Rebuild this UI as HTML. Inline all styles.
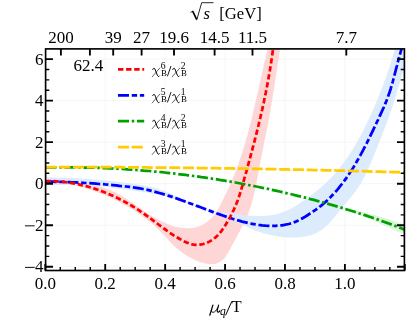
<!DOCTYPE html><html><head><meta charset="utf-8"><style>html,body{margin:0;padding:0;background:#fff}svg{display:block;will-change:transform}.t,.t text{font-family:"Liberation Serif",serif}</style></head><body><svg width="407" height="319" viewBox="0 0 407 319">
<defs><clipPath id="c"><rect x="45.6" y="48.9" width="358.79999999999995" height="221.6"/></clipPath><g id="chi" fill="none" stroke="#000" stroke-linecap="round"><path d="M0.7,1.7C1.0,0.8 1.6,0.4 2.2,0.6C2.7,0.9 2.9,1.6 3.2,2.4L5.3,7.6C5.6,8.3 6.0,8.8 6.5,8.8C6.9,8.8 7.1,8.6 7.3,8.3" stroke-width="1.0"/><path d="M7.7,0.3L0.1,9.1" stroke-width="0.6"/></g></defs>
<rect width="407" height="319" fill="#fff"/>
<path d="M105.22,48.9V270.5M165.14,48.9V270.5M225.06,48.9V270.5M284.98,48.9V270.5M344.90,48.9V270.5M45.6,59.08H404.4M45.6,100.62H404.4M45.6,142.16H404.4M45.6,183.70H404.4M45.6,225.24H404.4M45.6,266.78H404.4" stroke="#ececec" stroke-width="0.5" fill="none"/>
<g clip-path="url(#c)">
<path d="M45.5,180.0 50.1,179.8 54.6,179.7 59.2,179.8 63.8,179.9 68.4,180.3 72.9,180.7 77.5,181.3 82.1,182.0 86.6,182.9 91.1,183.9 95.6,185.0 100.0,186.4 104.3,187.9 108.6,189.5 112.8,191.3 116.9,193.3 120.9,195.5 124.8,197.8 128.7,200.3 132.5,202.8 136.2,205.4 140.0,208.1 143.8,210.7 147.6,213.2 151.5,215.7 155.5,218.1 159.5,220.3 163.7,222.3 167.9,224.1 172.2,225.7 176.6,226.9 181.2,227.8 185.8,228.3 190.4,228.2 194.9,227.5 199.2,226.2 203.3,224.3 207.1,221.8 210.6,218.9 213.6,215.6 216.3,211.9 218.8,207.9 221.0,203.8 223.1,199.6 225.1,195.4 227.1,191.2 229.1,187.1 230.9,182.9 232.7,178.7 234.4,174.5 236.1,170.2 237.7,165.9 239.2,161.6 240.7,157.3 242.1,153.0 243.5,148.6 244.8,144.2 246.0,139.8 247.3,135.4 248.5,130.9 249.6,126.5 250.8,122.0 251.9,117.6 252.9,113.1 254.0,108.6 255.0,104.1 256.1,99.6 257.1,95.2 258.1,90.7 259.1,86.2 260.1,81.7 261.1,77.2 262.1,72.7 263.1,68.2 264.1,63.8 265.2,59.3 266.2,54.9 267.3,50.5 268.4,46.0 280.6,46.0 279.8,51.3 278.9,56.6 278.1,62.0 277.3,67.3 276.5,72.6 275.6,78.0 274.8,83.3 274.0,88.7 273.1,94.0 272.3,99.4 271.4,104.7 270.5,110.0 269.5,115.4 268.6,120.7 267.6,126.0 266.5,131.2 265.5,136.5 264.4,141.8 263.4,147.1 262.3,152.3 261.2,157.6 260.2,162.9 259.2,168.3 258.2,173.6 257.2,179.0 256.2,184.3 255.1,189.6 253.9,194.9 252.6,200.2 251.1,205.3 249.4,210.4 247.5,215.3 245.3,220.2 243.0,225.0 240.5,229.8 238.0,234.6 235.3,239.4 232.7,244.2 230.1,249.2 227.4,254.0 224.2,258.4 220.2,261.8 215.5,263.9 210.4,264.3 205.0,263.5 199.8,262.0 194.7,260.0 189.8,257.6 185.2,254.8 180.7,251.6 176.5,248.2 172.6,244.5 168.8,240.6 165.2,236.6 161.5,232.7 157.8,228.8 153.9,225.1 149.8,221.7 145.5,218.4 141.1,215.2 136.7,212.2 132.1,209.3 127.5,206.5 122.8,203.8 118.0,201.3 113.2,198.9 108.3,196.6 103.3,194.5 98.3,192.5 93.2,190.7 88.0,189.1 82.8,187.6 77.6,186.3 72.3,185.2 67.0,184.3 61.7,183.5 56.3,182.9 50.9,182.5 45.5,182.3Z" fill="#ffd6d6"/>
<path d="M45.5,177.2 51.2,177.3 56.9,177.5 62.6,177.6 68.3,177.9 74.0,178.1 79.7,178.5 85.4,178.8 91.1,179.2 96.8,179.7 102.5,180.2 108.2,180.7 113.8,181.3 119.5,182.0 125.2,182.7 130.9,183.5 136.5,184.3 142.2,185.2 147.8,186.3 153.3,187.6 158.8,189.1 164.2,190.9 169.5,193.0 174.7,195.4 179.8,197.9 185.0,200.4 190.2,202.8 195.4,205.1 200.7,207.2 206.1,209.0 211.7,210.4 217.2,211.6 222.9,212.5 228.5,213.4 234.1,214.1 239.7,214.8 245.5,215.4 251.2,215.8 257.0,216.0 262.7,216.0 268.4,215.6 274.0,214.8 279.5,213.5 284.8,211.6 289.9,209.2 294.9,206.4 299.8,203.3 304.5,200.0 309.2,196.7 313.8,193.2 318.3,189.6 322.6,185.9 326.8,182.1 330.8,178.1 334.6,173.9 338.3,169.6 341.8,165.2 345.2,160.6 348.5,155.9 351.6,151.1 354.6,146.2 357.4,141.3 360.2,136.2 362.9,131.2 365.5,126.0 367.9,120.8 370.4,115.6 372.7,110.4 375.0,105.2 377.3,99.9 379.4,94.7 381.5,89.4 383.6,84.1 385.5,78.8 387.4,73.4 389.2,68.0 390.9,62.6 392.6,57.1 394.1,51.6 395.6,46.0 407.0,46.0 407.0,52.3 406.3,58.5 405.1,64.6 403.5,70.6 401.7,76.6 399.9,82.5 398.0,88.5 396.2,94.5 394.3,100.4 392.4,106.4 390.4,112.3 388.4,118.1 386.3,124.0 384.1,129.8 381.8,135.6 379.6,141.4 377.2,147.2 374.9,153.0 372.6,158.9 370.1,164.7 367.6,170.4 364.8,176.0 361.9,181.5 358.7,186.8 355.1,191.9 351.3,196.7 347.3,201.5 343.4,206.3 339.4,211.2 335.5,216.1 331.4,220.9 327.0,225.3 322.3,229.4 317.1,232.7 311.5,235.1 305.5,236.5 299.2,237.3 293.0,237.6 286.7,237.4 280.4,236.8 274.2,235.8 268.1,234.5 262.2,232.8 256.3,230.9 250.5,228.6 244.9,225.9 239.3,223.2 233.7,220.7 227.9,218.3 222.0,216.2 216.2,214.1 210.3,212.0 204.5,209.8 198.7,207.6 192.8,205.3 187.0,203.1 181.1,201.1 175.2,199.2 169.2,197.4 163.2,195.8 157.1,194.4 151.0,193.2 144.8,192.2 138.7,191.4 132.5,190.6 126.3,189.7 120.1,188.8 114.0,187.9 107.8,187.1 101.6,186.5 95.4,186.1 89.1,185.7 82.9,185.5 76.7,185.3 70.4,185.2 64.2,185.1 58.0,184.9 51.7,184.8 45.5,184.6Z" fill="#dbebfc" fill-opacity="0.96"/>
<path d="M330.0,204.0 331.0,204.3 331.9,204.5 332.9,204.7 333.9,204.9 334.9,205.2 335.8,205.4 336.8,205.6 337.8,205.8 338.8,206.1 339.7,206.3 340.7,206.5 341.7,206.7 342.7,207.0 343.6,207.2 344.6,207.4 345.6,207.6 346.6,207.9 347.5,208.1 348.5,208.3 349.5,208.6 350.4,208.8 351.4,209.0 352.4,209.3 353.4,209.5 354.3,209.7 355.3,210.0 356.3,210.2 357.2,210.4 358.2,210.7 359.2,210.9 360.2,211.2 361.1,211.4 362.1,211.7 363.1,211.9 364.0,212.2 365.0,212.4 366.0,212.7 366.9,212.9 367.9,213.2 368.9,213.4 369.8,213.7 370.8,213.9 371.8,214.2 372.7,214.5 373.7,214.7 374.7,215.0 375.6,215.3 376.6,215.5 377.5,215.8 378.5,216.1 379.5,216.4 380.4,216.7 381.4,216.9 382.3,217.2 383.3,217.5 384.2,217.8 385.2,218.1 386.2,218.4 387.1,218.7 388.1,219.0 389.0,219.3 390.0,219.6 390.9,219.9 391.9,220.2 392.8,220.6 393.8,220.9 394.7,221.2 395.7,221.5 396.6,221.9 397.5,222.2 398.5,222.5 399.4,222.9 400.4,223.2 401.3,223.6 402.2,223.9 403.2,224.3 404.1,224.6 405.0,225.0 406.0,225.4 406.0,235.3 405.1,234.8 404.1,234.4 403.2,234.0 402.2,233.6 401.3,233.2 400.3,232.8 399.4,232.3 398.4,231.9 397.5,231.5 396.5,231.1 395.6,230.6 394.6,230.2 393.7,229.8 392.8,229.4 391.8,229.0 390.9,228.5 389.9,228.1 389.0,227.7 388.0,227.3 387.1,226.8 386.1,226.4 385.2,226.0 384.2,225.6 383.3,225.1 382.3,224.7 381.4,224.3 380.5,223.9 379.5,223.4 378.6,223.0 377.6,222.6 376.7,222.2 375.7,221.8 374.8,221.3 373.8,220.9 372.9,220.5 371.9,220.1 371.0,219.7 370.0,219.3 369.0,218.9 368.1,218.5 367.1,218.1 366.2,217.7 365.2,217.3 364.3,216.9 363.3,216.5 362.3,216.1 361.4,215.7 360.4,215.3 359.5,214.9 358.5,214.5 357.5,214.2 356.6,213.8 355.6,213.4 354.6,213.0 353.7,212.7 352.7,212.3 351.7,212.0 350.8,211.6 349.8,211.2 348.8,210.9 347.8,210.5 346.9,210.2 345.9,209.9 344.9,209.5 343.9,209.2 342.9,208.9 341.9,208.5 341.0,208.2 340.0,207.9 339.0,207.6 338.0,207.3 337.0,207.0 336.0,206.7 335.0,206.4 334.0,206.1 333.0,205.8 332.0,205.6 331.0,205.3 330.0,205.0Z" fill="#dbf6db"/>
<path d="M45.5,181.7 48.9,181.7 52.3,181.7 55.7,181.8 59.0,181.8 62.4,181.9 65.8,182.0 69.1,182.1 72.5,182.3 75.9,182.4 79.2,182.6 82.6,182.8 85.9,183.0 89.3,183.2 92.6,183.4 96.0,183.7 99.3,184.0 102.7,184.2 106.1,184.5 109.4,184.8 112.8,185.1 116.2,185.4 119.5,185.8 122.9,186.1 126.3,186.5 129.6,186.9 133.0,187.3 136.4,187.8 139.7,188.4 143.0,189.0 146.3,189.7 149.6,190.4 152.8,191.2 156.1,192.1 159.3,193.0 162.5,193.9 165.7,194.9 168.9,195.9 172.1,196.9 175.3,198.0 178.5,199.1 181.6,200.2 184.8,201.4 187.9,202.6 191.1,203.7 194.3,204.9 197.4,206.1 200.6,207.3 203.7,208.5 206.9,209.7 210.1,210.9 213.2,212.1 216.4,213.3 219.6,214.4 222.8,215.5 226.0,216.6 229.3,217.7 232.5,218.8 235.7,219.8 239.0,220.7 242.2,221.6 245.5,222.4 248.8,223.2 252.1,223.8 255.4,224.4 258.7,224.9 262.1,225.3 265.4,225.6 268.8,225.8 272.1,225.9 275.5,225.8 278.8,225.6 282.2,225.3 285.5,224.7 288.8,224.0 292.0,223.1 295.1,221.9 298.2,220.6 301.2,219.0 304.2,217.3 307.1,215.5 309.9,213.6 312.8,211.7 315.6,209.8 318.3,207.8 320.9,205.8 323.5,203.7 326.1,201.4 328.5,199.1 330.9,196.8 333.2,194.3 335.5,191.8 337.7,189.3 339.8,186.7 341.9,184.0 343.9,181.4 345.9,178.6 347.8,175.9 349.7,173.1 351.6,170.2 353.4,167.4 355.1,164.5 356.8,161.5 358.5,158.6 360.2,155.7 361.8,152.7 363.4,149.7 364.9,146.7 366.5,143.7 368.0,140.7 369.5,137.7 370.9,134.7 372.4,131.6 373.8,128.6 375.3,125.6 376.7,122.5 378.2,119.5 379.6,116.4 381.0,113.4 382.4,110.3 383.8,107.2 385.1,104.1 386.4,101.0 387.6,97.8 388.7,94.7 389.8,91.5 390.8,88.3 391.7,85.0 392.7,81.8 393.6,78.5 394.4,75.3 395.3,72.0 396.1,68.8 397.0,65.5 397.8,62.2 398.7,59.0 399.6,55.7 400.5,52.5 401.4,49.2 402.4,46.0" fill="none" stroke="#0000ff" stroke-width="2.75" stroke-dasharray="11 2.75 5.4 2.75"/>
<path d="M45.5,181.2 48.3,181.1 51.1,181.1 54.0,181.2 56.8,181.4 59.6,181.6 62.4,181.8 65.2,182.1 68.0,182.5 70.8,182.9 73.5,183.4 76.3,183.9 79.0,184.4 81.7,185.1 84.5,185.7 87.2,186.4 89.9,187.2 92.5,188.0 95.2,188.9 97.9,189.8 100.5,190.7 103.1,191.7 105.7,192.8 108.3,193.8 110.9,195.0 113.5,196.1 116.0,197.3 118.5,198.6 121.0,199.8 123.5,201.1 126.0,202.5 128.4,203.9 130.9,205.3 133.3,206.7 135.7,208.2 138.0,209.7 140.4,211.3 142.7,212.9 145.0,214.5 147.3,216.1 149.5,217.8 151.8,219.4 154.0,221.1 156.3,222.8 158.5,224.5 160.7,226.2 163.0,227.9 165.3,229.5 167.5,231.1 169.9,232.8 172.2,234.3 174.5,235.9 176.9,237.3 179.4,238.8 181.9,240.2 184.4,241.5 187.0,242.6 189.6,243.6 192.2,244.4 195.0,244.8 197.7,244.9 200.5,244.6 203.3,244.0 205.9,243.2 208.5,242.1 211.0,240.7 213.3,239.1 215.5,237.4 217.5,235.5 219.4,233.5 221.2,231.3 222.8,229.0 224.4,226.7 226.0,224.2 227.4,221.8 228.8,219.3 230.2,216.8 231.5,214.3 232.7,211.8 234.0,209.3 235.1,206.7 236.2,204.2 237.3,201.6 238.2,199.0 239.1,196.4 240.0,193.7 240.8,191.0 241.6,188.3 242.4,185.6 243.1,182.9 243.9,180.2 244.6,177.5 245.4,174.8 246.2,172.1 246.9,169.4 247.7,166.7 248.4,164.0 249.1,161.3 249.9,158.6 250.6,155.9 251.3,153.1 252.1,150.4 252.8,147.7 253.5,145.0 254.2,142.3 254.9,139.6 255.6,136.8 256.3,134.1 257.0,131.4 257.6,128.7 258.3,126.0 259.0,123.2 259.6,120.5 260.3,117.8 260.9,115.0 261.5,112.3 262.2,109.6 262.8,106.8 263.4,104.1 264.0,101.3 264.5,98.6 265.1,95.8 265.7,93.1 266.2,90.3 266.8,87.6 267.3,84.8 267.8,82.1 268.3,79.3 268.8,76.6 269.3,73.8 269.8,71.0 270.2,68.3 270.7,65.5 271.1,62.7 271.5,59.9 271.9,57.1 272.3,54.4 272.7,51.6 273.0,48.8 273.4,46.0" fill="none" stroke="#ff0000" stroke-width="2.75" stroke-dasharray="5.4 2.7"/>
<path d="M45.5,167.4 48.1,167.4 50.8,167.3 53.4,167.3 56.1,167.3 58.7,167.3 61.4,167.3 64.0,167.3 66.7,167.3 69.3,167.3 72.0,167.3 74.7,167.3 77.3,167.4 80.0,167.4 82.6,167.5 85.3,167.5 87.9,167.6 90.5,167.6 93.2,167.7 95.8,167.8 98.5,167.9 101.1,168.0 103.8,168.1 106.4,168.2 109.1,168.3 111.7,168.5 114.4,168.6 117.0,168.7 119.7,168.9 122.3,169.0 125.0,169.2 127.6,169.4 130.2,169.6 132.9,169.7 135.5,169.9 138.2,170.1 140.8,170.3 143.5,170.6 146.1,170.8 148.7,171.0 151.4,171.2 154.0,171.5 156.6,171.7 159.3,172.0 161.9,172.2 164.6,172.5 167.2,172.8 169.8,173.1 172.5,173.4 175.1,173.7 177.7,174.0 180.3,174.3 183.0,174.6 185.6,174.9 188.2,175.3 190.9,175.6 193.5,176.0 196.1,176.3 198.7,176.7 201.4,177.1 204.0,177.4 206.6,177.8 209.2,178.2 211.8,178.6 214.5,179.0 217.1,179.4 219.7,179.9 222.3,180.3 224.9,180.7 227.5,181.2 230.1,181.6 232.7,182.1 235.4,182.5 238.0,183.0 240.6,183.5 243.2,184.0 245.8,184.5 248.4,185.0 251.0,185.5 253.6,186.0 256.2,186.5 258.8,187.0 261.4,187.6 264.0,188.1 266.6,188.7 269.1,189.2 271.7,189.8 274.3,190.3 276.9,190.9 279.5,191.5 282.1,192.1 284.7,192.7 287.2,193.3 289.8,193.9 292.4,194.5 295.0,195.2 297.5,195.8 300.1,196.4 302.7,197.1 305.3,197.7 307.8,198.4 310.4,199.1 313.0,199.7 315.5,200.4 318.1,201.1 320.6,201.8 323.2,202.5 325.7,203.2 328.3,203.9 330.8,204.7 333.4,205.4 335.9,206.1 338.5,206.9 341.0,207.6 343.5,208.4 346.1,209.2 348.6,210.0 351.1,210.8 353.7,211.5 356.2,212.3 358.7,213.2 361.2,214.0 363.7,214.8 366.3,215.6 368.8,216.5 371.3,217.3 373.8,218.2 376.3,219.1 378.8,219.9 381.3,220.8 383.8,221.7 386.3,222.6 388.7,223.5 391.2,224.4 393.7,225.4 396.2,226.3 398.7,227.3 401.1,228.2 403.6,229.2 406.1,230.1" fill="none" stroke="#00a000" stroke-width="2.75" stroke-dasharray="11 2.75 2.5 2.75"/>
<path d="M45.5,167.0 48.1,167.0 50.7,167.0 53.3,167.0 55.9,167.0 58.5,167.0 61.1,167.0 63.7,167.0 66.3,167.0 68.8,167.0 71.4,167.0 74.0,167.0 76.6,167.0 79.2,167.0 81.8,167.1 84.4,167.1 87.0,167.1 89.6,167.1 92.2,167.1 94.8,167.1 97.4,167.1 100.0,167.1 102.6,167.1 105.2,167.2 107.8,167.2 110.3,167.2 112.9,167.2 115.5,167.2 118.1,167.2 120.7,167.2 123.3,167.3 125.9,167.3 128.5,167.3 131.1,167.3 133.7,167.3 136.3,167.4 138.9,167.4 141.5,167.4 144.1,167.4 146.7,167.4 149.3,167.5 151.8,167.5 154.4,167.5 157.0,167.5 159.6,167.6 162.2,167.6 164.8,167.6 167.4,167.6 170.0,167.7 172.6,167.7 175.2,167.7 177.8,167.7 180.4,167.8 183.0,167.8 185.6,167.8 188.2,167.9 190.8,167.9 193.4,167.9 195.9,167.9 198.5,168.0 201.1,168.0 203.7,168.0 206.3,168.1 208.9,168.1 211.5,168.1 214.1,168.2 216.7,168.2 219.3,168.3 221.9,168.3 224.5,168.3 227.1,168.4 229.7,168.4 232.3,168.4 234.9,168.5 237.4,168.5 240.0,168.6 242.6,168.6 245.2,168.7 247.8,168.7 250.4,168.7 253.0,168.8 255.6,168.8 258.2,168.9 260.8,168.9 263.4,169.0 266.0,169.0 268.6,169.1 271.2,169.1 273.8,169.2 276.3,169.2 278.9,169.3 281.5,169.3 284.1,169.4 286.7,169.4 289.3,169.5 291.9,169.5 294.5,169.6 297.1,169.6 299.7,169.7 302.3,169.7 304.9,169.8 307.5,169.8 310.1,169.9 312.7,170.0 315.2,170.0 317.8,170.1 320.4,170.1 323.0,170.2 325.6,170.3 328.2,170.3 330.8,170.4 333.4,170.4 336.0,170.5 338.6,170.6 341.2,170.6 343.8,170.7 346.4,170.8 349.0,170.8 351.6,170.9 354.1,171.0 356.7,171.0 359.3,171.1 361.9,171.2 364.5,171.2 367.1,171.3 369.7,171.4 372.3,171.5 374.9,171.5 377.5,171.6 380.1,171.7 382.7,171.8 385.3,171.8 387.9,171.9 390.4,172.0 393.0,172.1 395.6,172.1 398.2,172.2 400.8,172.3 403.4,172.4 406.0,172.5" fill="none" stroke="#ffcc00" stroke-width="2.75" stroke-dasharray="11 2.75"/>
</g>
<rect x="45.6" y="48.9" width="358.79999999999995" height="221.6" fill="none" stroke="#000" stroke-width="1.65"/>
<path d="M45.30,270.5v-6.6M105.22,270.5v-6.6M165.14,270.5v-6.6M225.06,270.5v-6.6M284.98,270.5v-6.6M344.90,270.5v-6.6M404.82,270.5v-6.6M45.6,266.78h7.4M404.4,266.78h-7.4M45.6,225.24h7.4M404.4,225.24h-7.4M45.6,183.70h7.4M404.4,183.70h-7.4M45.6,142.16h7.4M404.4,142.16h-7.4M45.6,100.62h7.4M404.4,100.62h-7.4M45.6,59.08h7.4M404.4,59.08h-7.4M60.9,48.9v6.6M89.9,48.9v6.6M113.2,48.9v6.6M141.6,48.9v6.6M174,48.9v6.6M214.6,48.9v6.6M252.5,48.9v6.6M346.3,48.9v6.6" stroke="#000" stroke-width="1.85" fill="none"/>
<path d="M60.28,270.5v-3.4M75.26,270.5v-3.4M90.24,270.5v-3.4M120.20,270.5v-3.4M135.18,270.5v-3.4M150.16,270.5v-3.4M180.12,270.5v-3.4M195.10,270.5v-3.4M210.08,270.5v-3.4M240.04,270.5v-3.4M255.02,270.5v-3.4M270.00,270.5v-3.4M299.96,270.5v-3.4M314.94,270.5v-3.4M329.92,270.5v-3.4M359.88,270.5v-3.4M374.86,270.5v-3.4M389.84,270.5v-3.4M45.6,256.39h3.7M404.4,256.39h-3.7M45.6,246.01h3.7M404.4,246.01h-3.7M45.6,235.62h3.7M404.4,235.62h-3.7M45.6,214.85h3.7M404.4,214.85h-3.7M45.6,204.47h3.7M404.4,204.47h-3.7M45.6,194.08h3.7M404.4,194.08h-3.7M45.6,173.31h3.7M404.4,173.31h-3.7M45.6,162.93h3.7M404.4,162.93h-3.7M45.6,152.54h3.7M404.4,152.54h-3.7M45.6,131.77h3.7M404.4,131.77h-3.7M45.6,121.39h3.7M404.4,121.39h-3.7M45.6,111.00h3.7M404.4,111.00h-3.7M45.6,90.23h3.7M404.4,90.23h-3.7M45.6,79.85h3.7M404.4,79.85h-3.7M45.6,69.46h3.7M404.4,69.46h-3.7" stroke="#000" stroke-width="1.4" fill="none"/>
<g class="t" font-size="17" fill="#000" text-anchor="middle">
<text x="60.9" y="42.5">200</text>
<text x="88.4" y="71.2">62.4</text>
<text x="113.2" y="42.5">39</text>
<text x="141.6" y="42.5">27</text>
<text x="174" y="42.5">19.6</text>
<text x="214.6" y="42.5">14.5</text>
<text x="252.5" y="42.5">11.5</text>
<text x="346.3" y="42.5">7.7</text>
<text x="45.3" y="288.8">0.0</text>
<text x="105.2" y="288.8">0.2</text>
<text x="165.1" y="288.8">0.4</text>
<text x="225.1" y="288.8">0.6</text>
<text x="285.0" y="288.8">0.8</text>
<text x="344.9" y="288.8">1.0</text>
<text x="43.5" y="64.7" text-anchor="end">6</text>
<text x="43.5" y="106.2" text-anchor="end">4</text>
<text x="43.5" y="147.8" text-anchor="end">2</text>
<text x="43.5" y="189.3" text-anchor="end">0</text>
<text x="43.5" y="230.8" text-anchor="end">2</text>
<path d="M25,225.84h9.7" stroke="#000" stroke-width="0.95" fill="none"/>
<text x="43.5" y="272.4" text-anchor="end">4</text>
<path d="M25,267.38h9.7" stroke="#000" stroke-width="0.95" fill="none"/>
</g>
<g class="t" font-size="16.6" fill="#000">
<path d="M190.6,12.4l2.2,-1.3" fill="none" stroke="#000" stroke-width="0.8"/>
<path d="M192.6,11l4.0,8.4" fill="none" stroke="#000" stroke-width="1.7"/>
<path d="M196.7,20.2l5.0,-17.5h11.8" fill="none" stroke="#000" stroke-width="0.85"/>
<text x="203.4" y="19.2" font-style="italic">s</text>
<text x="219.3" y="19.2">[GeV]</text>
<g fill="none" stroke="#000" stroke-linecap="round" stroke-linejoin="round"><path d="M212.9,305.1L209.8,315.2" stroke-width="1.25"/><path d="M211.5,309.6C211.1,311.4 211.9,312.4 213.2,312.3C215,312.1 216.6,310.3 217.7,307.6" stroke-width="0.95"/><path d="M218.6,305.1L217.3,310.2C217,311.5 217.5,312.2 218.3,312.1C218.9,312 219.5,311.4 219.9,310.7" stroke-width="1.15"/></g>
<text x="220.0" y="315.2" font-style="italic" font-size="11.5">q</text>
<path d="M231.8,301.4L225.6,315.3" fill="none" stroke="#000" stroke-width="1.0"/>
<text x="231.4" y="312.3">T</text>
</g>
<path d="M118,69.25H144.2" stroke="#ff0000" stroke-width="2.75" stroke-dasharray="5.4 2.7" fill="none"/>
<g class="t" fill="#000"><use href="#chi" x="152.1" y="67.70"/><text x="160.8" y="68.80" font-size="9.6">6</text><text x="160.9" y="76.20" font-size="8.8">B</text><path d="M171.0,66.00L167.4,76.30" stroke="#000" stroke-width="0.9" fill="none"/><use href="#chi" x="172.1" y="67.70"/><text x="180.8" y="68.80" font-size="9.6">2</text><text x="180.9" y="76.20" font-size="8.8">B</text></g>
<path d="M118,95.4H144.2" stroke="#0000ff" stroke-width="2.75" stroke-dasharray="11 2.75 5.4 2.75" fill="none"/>
<g class="t" fill="#000"><use href="#chi" x="152.1" y="93.85"/><text x="160.8" y="94.95" font-size="9.6">5</text><text x="160.9" y="102.35" font-size="8.8">B</text><path d="M171.0,92.15L167.4,102.45" stroke="#000" stroke-width="0.9" fill="none"/><use href="#chi" x="172.1" y="93.85"/><text x="180.8" y="94.95" font-size="9.6">1</text><text x="180.9" y="102.35" font-size="8.8">B</text></g>
<path d="M118,121.1H144.2" stroke="#00a000" stroke-width="2.75" stroke-dasharray="11 2.75 2.5 2.75" fill="none"/>
<g class="t" fill="#000"><use href="#chi" x="152.1" y="119.55"/><text x="160.8" y="120.65" font-size="9.6">4</text><text x="160.9" y="128.05" font-size="8.8">B</text><path d="M171.0,117.85L167.4,128.15" stroke="#000" stroke-width="0.9" fill="none"/><use href="#chi" x="172.1" y="119.55"/><text x="180.8" y="120.65" font-size="9.6">2</text><text x="180.9" y="128.05" font-size="8.8">B</text></g>
<path d="M118,147.0H142.8" stroke="#ffcc00" stroke-width="2.75" stroke-dasharray="11 2.75" fill="none"/>
<g class="t" fill="#000"><use href="#chi" x="152.1" y="145.45"/><text x="160.8" y="146.55" font-size="9.6">3</text><text x="160.9" y="153.95" font-size="8.8">B</text><path d="M171.0,143.75L167.4,154.05" stroke="#000" stroke-width="0.9" fill="none"/><use href="#chi" x="172.1" y="145.45"/><text x="180.8" y="146.55" font-size="9.6">1</text><text x="180.9" y="153.95" font-size="8.8">B</text></g>
</svg></body></html>
